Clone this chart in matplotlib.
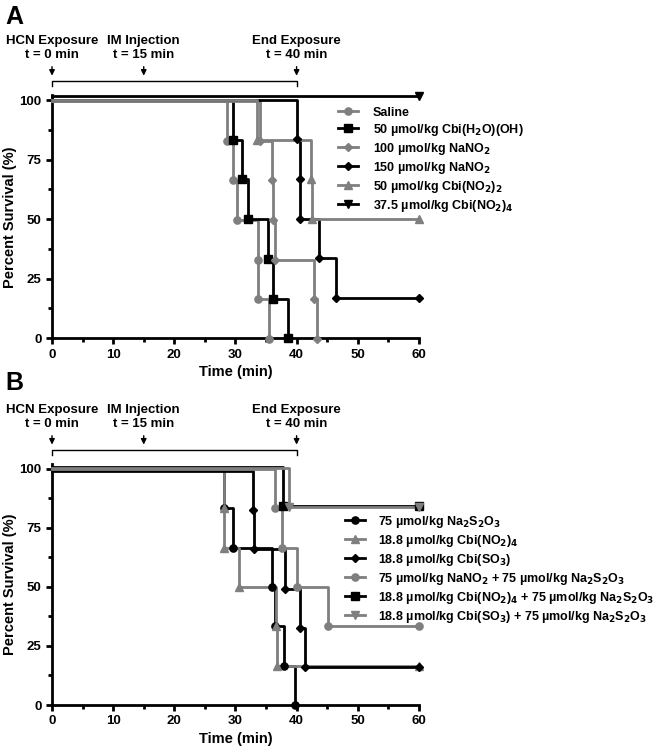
import numpy as np
import matplotlib.pyplot as plt
from matplotlib import transforms

plt.rcParams['font.family'] = ['Liberation Sans', 'DejaVu Sans']
plt.rcParams['font.weight'] = 'bold'
plt.rcParams['mathtext.default'] = 'bf'

BLACK = '#000000'
GRAY = '#7f7f7f'

# survival levels for groups of 6 animals (%)
levels = [100, 83.3, 66.7, 50, 33.3, 16.7, 0]

# ---- panel A: event times (min), one per death
labels_a = ['Saline', r'50 µmol/kg Cbi(H$_2$O)(OH)', r'100 µmol/kg NaNO$_2$',
            r'150 µmol/kg NaNO$_2$', r'50 µmol/kg Cbi(NO$_2$)$_2$',
            r'37.5 µmol/kg Cbi(NO$_2$)$_4$']
times_a = [
    [28.6, 29.6, 30.2, 33.7, 33.7, 35.5],
    [29.6, 31.1, 32.1, 35.3, 36.2, 38.6],
    [34.0, 36.0, 36.2, 36.4, 42.9, 43.3],
    [40.0, 40.5, 40.5, 43.6, 46.5],
    [33.5, 42.4, 42.6],
    [],
]
colors_a = [GRAY, BLACK, GRAY, BLACK, GRAY, BLACK]
markers_a = ['o', 's', 'D', 'D', '^', 'v']
offsets_a = [-0.5, 0.0, -0.5, 0.5, 0.0, 2.8]  # display offset (pt), avoids overlap

# ---- panel B
labels_b = [r'75 µmol/kg Na$_2$S$_2$O$_3$', r'18.8 µmol/kg Cbi(NO$_2$)$_4$',
            r'18.8 µmol/kg Cbi(SO$_3$)',
            r'75 µmol/kg NaNO$_2$ + 75 µmol/kg Na$_2$S$_2$O$_3$',
            r'18.8 µmol/kg Cbi(NO$_2$)$_4$ + 75 µmol/kg Na$_2$S$_2$O$_3$',
            r'18.8 µmol/kg Cbi(SO$_3$) + 75 µmol/kg Na$_2$S$_2$O$_3$']
times_b = [
    [28.1, 29.6, 36.0, 36.5, 37.9, 39.8],
    [28.1, 28.1, 30.6, 36.7, 36.8],
    [32.9, 33.0, 38.1, 40.6, 41.3],
    [36.5, 37.6, 40.0, 45.2],
    [37.7],
    [38.8],
]
colors_b = [BLACK, GRAY, BLACK, GRAY, BLACK, GRAY]
markers_b = ['o', '^', 'D', 'o', 's', 'v']
offsets_b = [0.0, 0.0, -1.2, 0.0, 1.6, 0.8]

annots = [(0, 'HCN Exposure\nt = 0 min'), (15, 'IM Injection\nt = 15 min'),
          (40, 'End Exposure\nt = 40 min')]

fig = plt.figure(figsize=(6.61, 7.5), dpi=100)
ax_a = fig.add_axes([0.0787, 0.549, 0.555, 0.3237])
ax_b = fig.add_axes([0.0787, 0.060, 0.555, 0.3210])


def draw(ax, times, colors, markers, offsets, labels):
    for t, c, m, off, lab in zip(times, colors, markers, offsets, labels):
        surv = levels[:len(t) + 1]
        tr = transforms.offset_copy(ax.transData, fig=fig, x=0, y=off, units='points')
        xs = [0] + t
        ys = list(surv)
        if ys[-1] > 0:
            xs = xs + [60]
            ys = ys + [ys[-1]]
        ax.step(xs, ys, where='post', color=c, lw=2.0, transform=tr, clip_on=False,
                zorder=3)
        mx = xs[1:]
        my = ys[1:]
        ms = 4.3 if m == 'D' else 5.2
        ax.plot(mx, my, ls='none', marker=m, color=c, ms=ms, transform=tr,
                clip_on=False, zorder=4)
        ax.plot([], [], color=c, lw=2.0, marker=m, ms=ms, label=lab)

    ax.set_xlim(0, 60)
    ax.set_ylim(0, 102)
    ax.set_xticks(np.arange(0, 61, 10))
    ax.set_xticks(np.arange(0, 61, 5), minor=True)
    ax.set_yticks([0, 25, 50, 75, 100])
    ax.set_yticks(np.arange(0, 101, 12.5), minor=True)
    for s in ['top', 'right']:
        ax.spines[s].set_visible(False)
    for s in ['left', 'bottom']:
        ax.spines[s].set_linewidth(2.0)
    ax.tick_params(which='major', length=4, width=2.0, labelsize=9.5)
    ax.tick_params(which='minor', length=3, width=2.0)
    ax.set_xlabel('Time (min)', fontsize=10.5, fontweight='bold', labelpad=3)
    ax.set_ylabel('Percent Survival (%)', fontsize=10.5, fontweight='bold', labelpad=2)

    # timeline annotations
    tb = transforms.blended_transform_factory(ax.transData, ax.transAxes)
    ax.plot([0, 0, 40, 40], [1.04, 1.06, 1.06, 1.04], color=BLACK, lw=1.0,
            transform=tb, clip_on=False)
    for x, txt in annots:
        ax.annotate('', xy=(x, 1.07), xytext=(x, 1.13), xycoords=tb, textcoords=tb,
                    arrowprops=dict(arrowstyle='-|>', color=BLACK, lw=1.0,
                                    mutation_scale=8))
        ax.text(x, 1.142, txt, transform=tb, ha='center', va='bottom',
                fontsize=9.5, fontweight='bold', linespacing=1.2)


draw(ax_a, times_a, colors_a, markers_a, offsets_a, labels_a)
draw(ax_b, times_b, colors_b, markers_b, offsets_b, labels_b)

ax_a.legend(loc='upper left', bbox_to_anchor=(0.765, 0.975), frameon=False,
            fontsize=9, handlelength=1.6, handletextpad=1.2, labelspacing=0.24,
            borderaxespad=0)
ax_b.legend(loc='upper left', bbox_to_anchor=(0.785, 0.815), frameon=False,
            fontsize=9, handlelength=1.6, handletextpad=1.0, labelspacing=0.24,
            borderaxespad=0)

fig.text(0.008, 0.978, 'A', fontsize=18, fontweight='bold', va='center')
fig.text(0.008, 0.49, 'B', fontsize=18, fontweight='bold', va='center')

fig.savefig('out.png', dpi=100, facecolor='white')
